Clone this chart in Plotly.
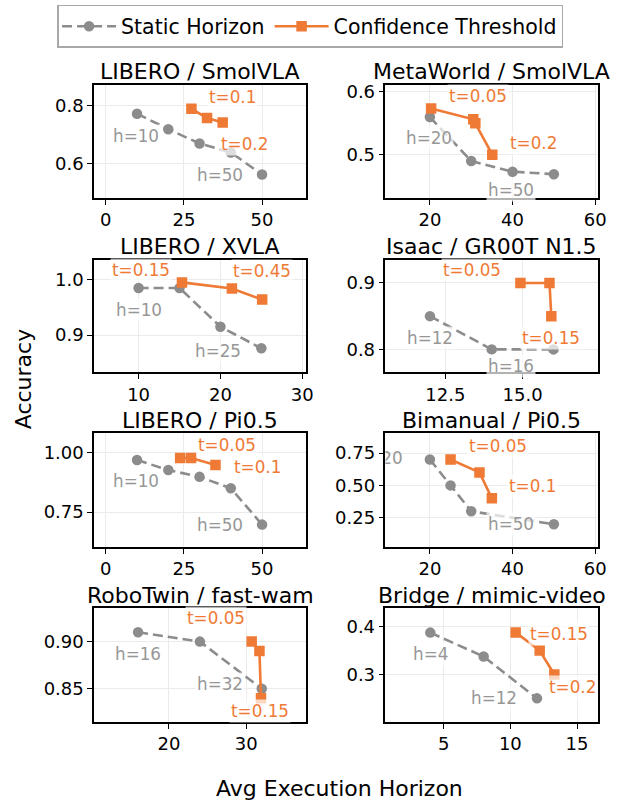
import plotly.graph_objects as go

W, H = 639, 803

TITLES = ["LIBERO / SmolVLA", "MetaWorld / SmolVLA", "LIBERO / XVLA", "Isaac / GR00T N1.5",
          "LIBERO / Pi0.5", "Bimanual / Pi0.5", "RoboTwin / fast-wam", "Bridge / mimic-video"]

STATIC_X = [[10, 20, 30, 40, 50], [20, 30, 40, 50], [10, 15, 20, 25], [12, 14, 16],
            [10, 20, 30, 40, 50], [20, 25, 30, 50], [16, 24, 32], [4, 8, 12]]
STATIC_Y = [[0.773, 0.719, 0.669, 0.638, 0.561], [0.560, 0.490, 0.473, 0.469],
            [0.985, 0.985, 0.915, 0.876], [0.85, 0.80, 0.80],
            [0.97, 0.928, 0.899, 0.851, 0.697], [0.70, 0.50, 0.30, 0.20],
            [0.91, 0.90, 0.85], [0.3875, 0.3375, 0.25]]
CONF_X = [[27.4, 32.4, 37.4], [20.3, 30.5, 31.0, 35.1], [15.3, 21.4, 25.1], [14.93, 15.87, 15.93],
          [23.8, 27.3, 35.1], [25, 32, 35], [30.7, 31.7, 31.9], [10.4, 12.2, 13.3]]
CONF_Y = [[0.79, 0.758, 0.742], [0.5735, 0.5565, 0.55, 0.50], [0.995, 0.984, 0.964], [0.90, 0.90, 0.85],
          [0.979, 0.979, 0.949], [0.70, 0.60, 0.40], [0.90, 0.89, 0.84], [0.388, 0.35, 0.30]]

X_TICKS = [[0, 25, 50], [20, 40, 60], [10, 20, 30], [12.5, 15.0],
           [0, 25, 50], [20, 40, 60], [20, 30], [5, 10, 15]]
X_TICK_LABELS = [["0", "25", "50"], ["20", "40", "60"], ["10", "20", "30"], ["12.5", "15.0"],
                 ["0", "25", "50"], ["20", "40", "60"], ["20", "30"], ["5", "10", "15"]]
Y_TICKS = [[0.6, 0.8], [0.5, 0.6], [0.9, 1.0], [0.8, 0.9],
           [0.75, 1.00], [0.25, 0.5, 0.75], [0.85, 0.90], [0.3, 0.4]]
Y_TICK_LABELS = [["0.6", "0.8"], ["0.5", "0.6"], ["0.9", "1.0"], ["0.8", "0.9"],
                 ["0.75", "1.00"], ["0.25", "0.50", "0.75"], ["0.85", "0.90"], ["0.3", "0.4"]]

# point labels: (series, point index, text, dx px, dy px (down))
LABELS = [
    [("h", 0, "h=10", -1, 22), ("h", -1, "h=50", -42, 0), ("t", 0, "t=0.1", 41, -12), ("t", -1, "t=0.2", 22, 21)],
    [("h", 0, "h=20", -1, 21), ("h", -1, "h=50", -43, 16), ("t", 0, "t=0.05", 47, -13), ("t", -1, "t=0.2", 41, -12)],
    [("h", 0, "h=10", 0, 22), ("h", -1, "h=25", -43, 3), ("t", 0, "t=0.15", -41, -12), ("t", -1, "t=0.45", 0, -29)],
    [("h", 0, "h=12", 0, 22), ("h", -1, "h=16", -42, 17), ("t", 0, "t=0.05", -48, -13), ("t", -1, "t=0.15", 0, 22)],
    [("h", 0, "h=10", -1, 21), ("h", -1, "h=50", -42, 0), ("t", 0, "t=0.05", 47, -13), ("t", -1, "t=0.1", 42, 2)],
    [("h", 0, "h=20", -51, 0), ("h", -1, "h=50", -43, 0), ("t", 0, "t=0.05", 47, -13), ("t", -1, "t=0.1", 41, -12)],
    [("h", 0, "h=16", 0, 22), ("h", -1, "h=32", -42, -5), ("t", 0, "t=0.05", -36, -24), ("t", -1, "t=0.15", -1, 13)],
    [("h", 0, "h=4", 0, 21), ("h", -1, "h=12", -43, 0), ("t", 0, "t=0.15", 43, 2), ("t", -1, "t=0.2", 18, 13)],
]

# layout (pixels)
COLS = [(95.5, 310.5), (391, 606.5)]
ROWS = [(82, 195.5), (257.5, 370.5), (432, 546), (607.5, 721.5)]
X_RANGES = [[-3.72, 64.1], [9.26, 60.67], [4.57, 30.47], [10.56, 17.44],
            [-3.72, 64.1], [9.26, 60.67], [10.32, 37.74], [0.64, 16.57]]
Y_RANGES = [[0.480, 0.874], [0.4314, 0.6116], [0.833, 1.0363], [0.7658, 0.9352],
            [0.6024, 1.083], [0.0246, 0.9015], [0.8149, 0.9354], [0.201, 0.4385]]

GRAY = "#8c8c8c"
GRAY_TXT = "#979797"
ORANGE = "#EF7A35"
FONT = "DejaVu Sans"


def xp(px):
    return px / W


def yp(px):
    return 1 - px / H


fig = go.Figure()
annotations = []
layout = {}

for i in range(8):
    r, c = divmod(i, 2)
    x0, x1 = COLS[c]
    y0, y1 = ROWS[r]
    k = "" if i == 0 else str(i + 1)
    xa, ya = "x" + k, "y" + k

    fig.add_trace(go.Scatter(
        x=STATIC_X[i], y=STATIC_Y[i], mode="lines+markers", name="Static Horizon",
        xaxis=xa, yaxis=ya, legendgroup="s", showlegend=(i == 0),
        line=dict(color=GRAY, width=2.6, dash="10px,5px"),
        marker=dict(symbol="circle", size=10.5, color=GRAY)))
    fig.add_trace(go.Scatter(
        x=CONF_X[i], y=CONF_Y[i], mode="lines+markers", name="Confidence Threshold",
        xaxis=xa, yaxis=ya, legendgroup="c", showlegend=(i == 0),
        line=dict(color=ORANGE, width=2.6),
        marker=dict(symbol="square", size=10.5, color=ORANGE)))

    axis_common = dict(showline=True, mirror=True, linecolor="black", linewidth=1.6,
                       ticks="outside", ticklen=5, tickwidth=1.4, tickcolor="black",
                       showgrid=True, gridcolor="#ebebeb", gridwidth=1, zeroline=False,
                       tickfont=dict(family=FONT, size=18, color="black"))
    layout["xaxis" + k] = dict(domain=[xp(x0), xp(x1)], range=X_RANGES[i], anchor=ya,
                               tickvals=X_TICKS[i], ticktext=X_TICK_LABELS[i], **axis_common)
    layout["yaxis" + k] = dict(domain=[yp(y1), yp(y0)], range=Y_RANGES[i], anchor=xa,
                               tickvals=Y_TICKS[i], ticktext=Y_TICK_LABELS[i], **axis_common)

    annotations.append(dict(text=TITLES[i], xref="paper", yref="paper",
                            x=xp((x0 + x1) / 2), y=yp(y0 - 13), xanchor="center", yanchor="middle",
                            showarrow=False, font=dict(family=FONT, size=22, color="black")))

    ppx = (x1 - x0) / (X_RANGES[i][1] - X_RANGES[i][0])
    ppy = (y1 - y0) / (Y_RANGES[i][1] - Y_RANGES[i][0])
    for ser, idx, txt, dx, dy in LABELS[i]:
        if ser == "h":
            px_, py_, col = STATIC_X[i][idx], STATIC_Y[i][idx], GRAY_TXT
        else:
            px_, py_, col = CONF_X[i][idx], CONF_Y[i][idx], ORANGE
        cx = x0 + (px_ - X_RANGES[i][0]) * ppx + dx
        half = len(txt) * 0.6 * 16.8 / 2
        if cx - half < x0 or cx + half > x1 + 4:
            # label partially outside the axes: draw as clipped text trace
            fig.add_trace(go.Scatter(
                x=[px_ + dx / ppx], y=[py_ - dy / ppy], mode="text", text=[txt],
                textposition="middle center", xaxis=xa, yaxis=ya, showlegend=False,
                textfont=dict(family=FONT, size=16.8, color=col), hoverinfo="skip"))
        else:
            annotations.append(dict(text=txt, xref=xa, yref=ya, x=px_, y=py_,
                                    xshift=dx, yshift=-dy, showarrow=False,
                                    xanchor="center", yanchor="middle",
                                    bgcolor="rgba(255,255,255,0.7)", borderpad=1,
                                    font=dict(family=FONT, size=16.8, color=col)))

annotations.append(dict(text="Accuracy", xref="paper", yref="paper", x=xp(24), y=yp(378),
                        textangle=-90, showarrow=False, xanchor="center", yanchor="middle",
                        font=dict(family=FONT, size=22, color="black")))
annotations.append(dict(text="Avg Execution Horizon", xref="paper", yref="paper", x=xp(344), y=yp(788),
                        showarrow=False, xanchor="center", yanchor="middle",
                        font=dict(family=FONT, size=22, color="black")))

fig.update_layout(
    width=W, height=H, autosize=False,
    margin=dict(l=0, r=0, t=0, b=0),
    paper_bgcolor="white", plot_bgcolor="white",
    font=dict(family=FONT, size=18, color="black"),
    showlegend=True,
    legend=dict(orientation="h", x=xp(314.5), xanchor="center", y=yp(2), yanchor="top",
                bgcolor="white", bordercolor="#a8a8a8", borderwidth=1.5, itemwidth=54,
                font=dict(family=FONT, size=20.5, color="black")),
    annotations=annotations,
    **layout,
)

fig.write_html("out.html", config={"displayModeBar": False},
               post_script="document.body.style.margin='0px';document.body.style.padding='0px';"
                           "document.body.style.overflow='hidden';")
